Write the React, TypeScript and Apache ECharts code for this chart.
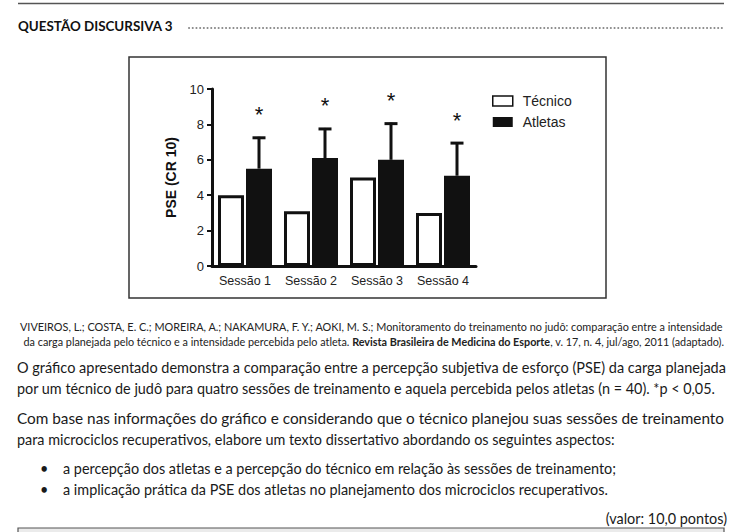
import React, { useEffect, useRef } from "react";
import * as echarts from "echarts";

// ---- chart data ----
const sessions = ["Sessão 1", "Sessão 2", "Sessão 3", "Sessão 4"];
const tecnico = [4.0, 3.1, 5.0, 3.0];
const atletas = [5.5, 6.1, 6.0, 5.1];
const atletasSD = [1.8, 1.7, 2.1, 1.9];
const significance = ["*", "*", "*", "*"];
const yTicks = { min: 0, max: 10, interval: 2 };

// ---- page texts ----
const titleText = "QUESTÃO DISCURSIVA 3";
const citationLines = [
  "VIVEIROS, L.; COSTA, E. C.; MOREIRA, A.; NAKAMURA, F. Y.; AOKI, M. S.; Monitoramento do treinamento no judô: comparação entre a intensidade",
  "da carga planejada pelo técnico e a intensidade percebida pelo atleta. {b|Revista Brasileira de Medicina do Esporte}, v. 17, n. 4, jul/ago, 2011 (adaptado).",
];
const paragraph1 = [
  "O gráfico apresentado demonstra a comparação entre a percepção subjetiva de esforço (PSE) da carga planejada",
  "por um técnico de judô para quatro sessões de treinamento e aquela percebida pelos atletas (n = 40). *p < 0,05.",
];
const paragraph2 = [
  "Com base nas informações do gráfico e considerando que o técnico planejou suas sessões de treinamento",
  "para microciclos recuperativos, elabore um texto dissertativo abordando os seguintes aspectos:",
];
const bullets = [
  "a percepção dos atletas e a percepção do técnico em relação às sessões de treinamento;",
  "a implicação prática da PSE dos atletas no planejamento dos microciclos recuperativos.",
];
const valorText = "(valor: 10,0 pontos)";

const PAGE_FONT = "Lato, 'Open Sans', sans-serif";
const CHART_FONT = "'Liberation Sans', Arial, sans-serif";
const BAR_W = 26;
const BAR_GAP_PX = 2;
const LEFT_X = 17;
const RIGHT_X = 724;
const BODY_SIZE = 14.4;
const CITE_SIZE = 10.8;

function measure(text: string, size: number, weight = "normal") {
  const ctx = document.createElement("canvas").getContext("2d");
  if (!ctx) return 0;
  ctx.font = `${weight} ${size}px Lato`;
  return ctx.measureText(text).width;
}

export default function App() {
  const ref = useRef<HTMLDivElement>(null);

  useEffect(() => {
    if (!ref.current) return;
    const chart = echarts.init(ref.current, undefined, { renderer: "svg" });

    const pageGraphics: any[] = [];
    pageGraphics.push({
      type: "line",
      shape: { x1: 18, y1: 3.5, x2: RIGHT_X, y2: 3.5 },
      style: { stroke: "#555", lineWidth: 1.5 },
    });
    pageGraphics.push({
      type: "text",
      x: 18,
      y: 25.5,
      style: {
        text: titleText,
        fontFamily: PAGE_FONT,
        fontWeight: "bold",
        fontSize: 13.4,
        fill: "#111",
        verticalAlign: "middle",
      },
    });
    pageGraphics.push({
      type: "line",
      shape: { x1: 189, y1: 28, x2: 723, y2: 28 },
      style: { stroke: "#888", lineWidth: 2, lineDash: [0.1, 3.6], lineCap: "round" },
    });
    pageGraphics.push({
      type: "rect",
      shape: { x: 129, y: 57, width: 477, height: 241 },
      style: { fill: "none", stroke: "#333", lineWidth: 1.5 },
    });

    // citation: first line justified, second right aligned
    const citeW = measure(citationLines[0], CITE_SIZE);
    pageGraphics.push({
      type: "text",
      x: 20,
      y: 327,
      scaleX: citeW > 0 ? (RIGHT_X - 20) / citeW : 1,
      style: {
        text: citationLines[0],
        fontFamily: PAGE_FONT,
        fontSize: CITE_SIZE,
        fill: "#222",
        verticalAlign: "middle",
      },
    });
    pageGraphics.push({
      type: "text",
      x: RIGHT_X,
      y: 341,
      style: {
        text: citationLines[1],
        fontFamily: PAGE_FONT,
        fontSize: CITE_SIZE,
        fill: "#222",
        align: "right",
        verticalAlign: "middle",
        rich: { b: { fontFamily: PAGE_FONT, fontSize: CITE_SIZE, fontWeight: "bold", fill: "#222" } },
      },
    });

    const bodyLine = (t: string, x: number, y: number, align = "left", justifyTo = 0) => {
      let sx = 1;
      if (justifyTo > 0) {
        const w = measure(t, BODY_SIZE);
        if (w > 0) sx = (justifyTo - x) / w;
      }
      return {
        type: "text",
        x,
        y,
        scaleX: sx,
        style: {
          text: t,
          fontFamily: PAGE_FONT,
          fontSize: BODY_SIZE,
          fill: "#1a1a1a",
          align,
          verticalAlign: "middle",
        },
      };
    };
    paragraph1.forEach((t, i) =>
      pageGraphics.push(bodyLine(t, LEFT_X, 368 + i * 20.5, "left", i < paragraph1.length - 1 ? 726 : 0))
    );
    paragraph2.forEach((t, i) =>
      pageGraphics.push(bodyLine(t, LEFT_X, 418.5 + i * 20.5, "left", i < paragraph2.length - 1 ? RIGHT_X : 0))
    );
    bullets.forEach((t, i) => {
      pageGraphics.push(bodyLine("•", 40, 468.5 + i * 20.5));
      pageGraphics.push(bodyLine(t, 63, 468.5 + i * 20.5));
    });
    pageGraphics.push(bodyLine(valorText, 727, 518.5, "right"));
    pageGraphics.push({
      type: "rect",
      shape: { x: 18, y: 528, width: 706, height: 20 },
      style: { fill: "#ebebeb", stroke: "#555", lineWidth: 1.2 },
    });

    const errData = atletas.map((m, i) => [i, m, atletasSD[i]]);

    chart.setOption({
      animation: false,
      backgroundColor: "#fff",
      grid: { left: 212, right: 262, top: 89, bottom: 266, containLabel: false },
      legend: {
        left: 492,
        top: 94,
        padding: 0,
        orient: "vertical",
        icon: "rect",
        itemWidth: 20,
        itemHeight: 10,
        itemGap: 7,
        textStyle: {
          fontFamily: CHART_FONT,
          fontSize: 14,
          color: "#222",
          padding: [0, 0, 0, 5],
        },
        data: [
          { name: "Técnico", itemStyle: { color: "#fff", borderColor: "#111", borderWidth: 1.5 } },
          { name: "Atletas", itemStyle: { color: "#111" } },
        ],
      },
      xAxis: {
        type: "category",
        data: sessions,
        axisLine: { lineStyle: { color: "#111", width: 3 } },
        axisTick: { alignWithLabel: true, length: 6, lineStyle: { color: "#111", width: 2.5 } },
        axisLabel: { interval: 0, fontFamily: CHART_FONT, fontSize: 12.5, color: "#222", margin: 8 },
      },
      yAxis: {
        type: "value",
        min: yTicks.min,
        max: yTicks.max,
        interval: yTicks.interval,
        name: "PSE (CR 10)",
        nameLocation: "middle",
        nameGap: 34,
        nameTextStyle: { fontFamily: CHART_FONT, fontSize: 14, fontWeight: "bold", color: "#111" },
        splitLine: { show: false },
        axisLine: { show: true, lineStyle: { color: "#111", width: 3 } },
        axisTick: { show: true, length: 5, lineStyle: { color: "#111", width: 2 } },
        axisLabel: { fontFamily: CHART_FONT, fontSize: 13, color: "#222", margin: 8 },
      },
      graphic: pageGraphics,
      series: [
        {
          type: "bar",
          name: "Técnico",
          data: tecnico,
          barWidth: BAR_W,
          barGap: (BAR_GAP_PX / BAR_W) * 100 + "%",
          itemStyle: { color: "#fff", borderColor: "#111", borderWidth: 3 },
        },
        {
          type: "bar",
          name: "Atletas",
          data: atletas,
          barWidth: BAR_W,
          itemStyle: { color: "#111" },
        },
        {
          type: "custom",
          name: "Atletas SD",
          data: errData,
          z: 5,
          renderItem: (params: any, api: any) => {
            const i = api.value(0);
            const m = api.value(1);
            const sd = api.value(2);
            const star = significance[i];
            const base = api.coord([i, m]);
            const top = api.coord([i, m + sd]);
            const x = base[0] + BAR_W / 2 + BAR_GAP_PX / 2;
            return {
              type: "group",
              children: [
                {
                  type: "line",
                  shape: { x1: x, y1: base[1], x2: x, y2: top[1] },
                  style: { stroke: "#111", lineWidth: 3 },
                },
                {
                  type: "line",
                  shape: { x1: x - 6.5, y1: top[1] + 1, x2: x + 6.5, y2: top[1] + 1 },
                  style: { stroke: "#111", lineWidth: 3 },
                },
                {
                  type: "text",
                  x: x,
                  y: top[1] - 22,
                  style: {
                    text: star,
                    fontFamily: CHART_FONT,
                    fontSize: 22,
                    fill: "#111",
                    align: "center",
                    verticalAlign: "middle",
                  },
                },
              ],
            };
          },
        },
      ],
    });

    return () => chart.dispose();
  }, []);

  return (
    <div
      ref={ref}
      style={{ position: "absolute", left: 0, top: 0, width: 738, height: 532, background: "#fff" }}
    />
  );
}
